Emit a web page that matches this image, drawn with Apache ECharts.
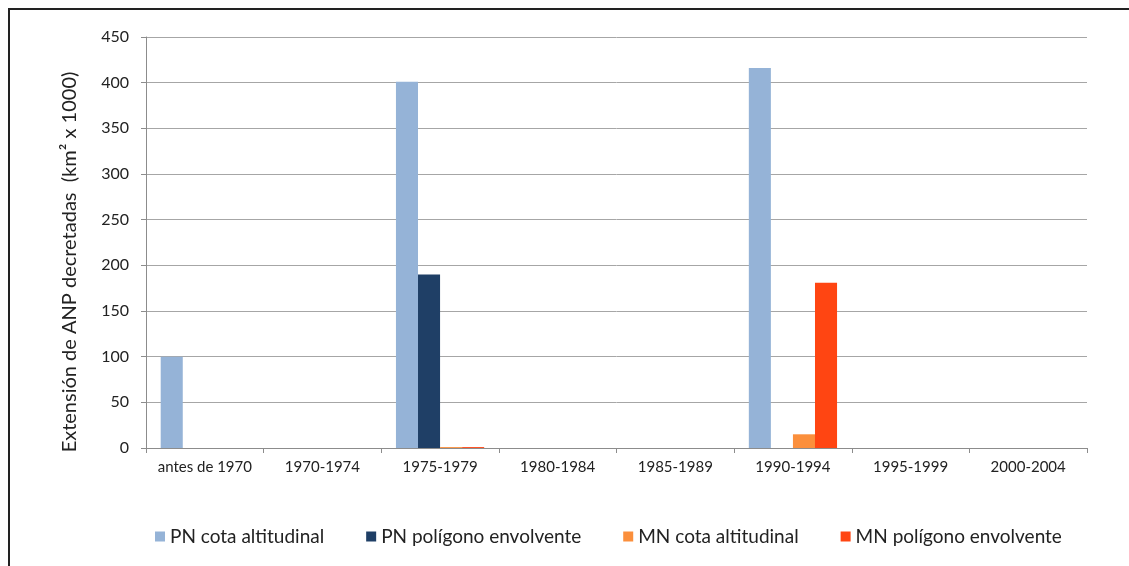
<!DOCTYPE html>
<html>
<head>
<meta charset="utf-8">
<script src="https://cdn.jsdelivr.net/npm/echarts@6/dist/echarts.min.js"></script>
<style>
  html, body { margin: 0; padding: 0; background: #fff; }
  #frame { position: absolute; left: 8px; top: 8px; width: 1121px; height: 558px;
           border-top: 2px solid #222; border-left: 2px solid #222; box-sizing: border-box; }
  #chart { position: absolute; left: 0; top: 0; width: 1129px; height: 566px; }
</style>
</head>
<body>
<div id="frame"></div>
<div id="chart"></div>
<script>
// Periods in which protected natural areas were decreed
const categories = ['antes de 1970', '1970-1974', '1975-1979', '1980-1984', '1985-1989', '1990-1994', '1995-1999', '2000-2004'];

// Decreed extent (km² x 1000) per period
const pnCota     = [100, 0, 401, 0, 0, 416, 0, 0];
const pnPoligono = [0, 0, 190, 0, 0, 0, 0, 0];
const mnCota     = [0, 0, 1, 0, 0, 15, 0, 0];
const mnPoligono = [0, 0, 1, 0, 0, 181, 0, 0];

const seriesNames = ['PN cota altitudinal', 'PN polígono envolvente', 'MN cota altitudinal', 'MN polígono envolvente'];
const seriesColors = ['#95b3d7', '#1f3f66', '#fb8f3c', '#ff4512'];

const yTitle = 'Extensión de ANP decretadas  (km² x 1000)';
const FONT = 'Lato, "Open Sans", sans-serif';

const chart = echarts.init(document.getElementById('chart'), null, { renderer: 'canvas' });

const data = [pnCota, pnPoligono, mnCota, mnPoligono];

chart.setOption({
  animation: false,
  textStyle: { fontFamily: FONT },
  grid: { left: 146, right: 42, top: 37, bottom: 118, containLabel: false },
  legend: {
    bottom: 15,
    left: 150,
    itemWidth: 10,
    itemHeight: 10,
    itemGap: 42,
    icon: 'rect',
    textStyle: { fontSize: 19, color: '#222', fontFamily: FONT },
    data: seriesNames
  },
  // rotated axis title, sitting a little below the plot's vertical middle
  graphic: [{
    type: 'text',
    x: 70,
    y: 262,
    rotation: Math.PI / 2,
    style: {
      text: yTitle,
      fontSize: 20,
      fontFamily: FONT,
      fill: '#222',
      align: 'center',
      verticalAlign: 'middle'
    }
  }],
  xAxis: {
    type: 'category',
    data: categories,
    axisLine: { lineStyle: { color: '#8c8c8c', width: 1 } },
    axisTick: { show: true, length: 5, lineStyle: { color: '#8c8c8c' } },
    axisLabel: { fontSize: 15, color: '#222', margin: 12, interval: 0 }
  },
  yAxis: {
    type: 'value',
    min: 0, max: 450, interval: 50,
    axisLine: { show: true, lineStyle: { color: '#8c8c8c' } },
    axisTick: { show: true, length: 5, lineStyle: { color: '#8c8c8c' } },
    axisLabel: { fontSize: 16, color: '#222', margin: 17 },
    splitLine: { lineStyle: { color: '#a6a6a6', width: 1 } }
  },
  series: data.map((vals, i) => ({
    name: seriesNames[i],
    type: 'bar',
    data: vals,
    barGap: '0%',
    barCategoryGap: '25%',
    itemStyle: { color: seriesColors[i] }
  }))
});
</script>
</body>
</html>
